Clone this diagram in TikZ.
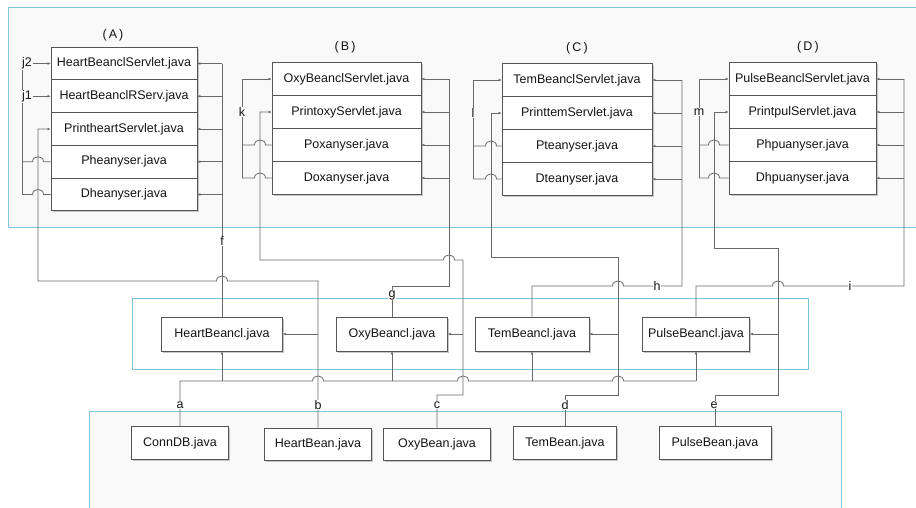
\documentclass[tikz,border=0pt]{standalone}
\usepackage{fontspec}
\setmainfont{Liberation Sans}
\usetikzlibrary{arrows.meta,shadows}
\definecolor{panelc}{RGB}{125,198,218}
\definecolor{panelfill}{RGB}{249,249,249}
\definecolor{linec}{RGB}{105,105,105}
\definecolor{boxc}{RGB}{85,85,85}
\definecolor{txtc}{RGB}{20,20,20}
\tikzset{
  panel/.style={draw=panelc, line width=1pt},
  fbox/.style={draw=boxc, fill=white, line width=0.8pt, inner sep=0pt,
    font=\fontsize{12.5}{14}\selectfont, text=txtc,
    drop shadow={shadow xshift=1.5pt, shadow yshift=-1.5pt, fill=black!22, opacity=1}},
  ln/.style={draw=linec, line width=0.8pt},
  arr/.style={ln, -{Latex[length=3pt,width=2.8pt]}},
  lab/.style={font=\fontsize{12.5}{14}\selectfont, text=txtc, inner sep=0.8pt, fill=white},
  labp/.style={lab, fill=panelfill},
  grp/.style={font=\fontsize{12.5}{14}\selectfont, text=txtc, inner sep=0pt},
  hop/.style args={#1/#2}{insert path={-- ({#1-5.5},#2) .. controls ({#1-5.5},{#2-6.7}) and ({#1+5.5},{#2-6.7}) .. ({#1+5.5},#2)}},
  hopl/.style args={#1/#2}{insert path={-- ({#1+5.5},#2) .. controls ({#1+5.5},{#2-6.7}) and ({#1-5.5},{#2-6.7}) .. ({#1-5.5},#2)}},
}
\begin{document}
\begin{tikzpicture}[x=1pt,y=-1pt]
\useasboundingbox (0,0) rectangle (916,507);
% panels
\draw[panel, fill=panelfill] (8,7) rectangle (925,227);
\draw[panel, fill=white] (132,298) rectangle (808,369);
\draw[panel, fill=panelfill] (89,411) rectangle (841,520);
% group titles
\node[grp] (tA) at (113,35) {(\,A\,)};
\node[grp] (tB) at (345,47) {(\,B\,)};
\node[grp] (tC) at (577,48) {(\,C\,)};
\node[grp] (tD) at (808,47) {(\,D\,)};
% group A
\node[fbox, minimum width=146pt, minimum height=32.75pt] (A1) at (124,63.5) {HeartBeanclServlet.java};
\node[fbox, minimum width=146pt, minimum height=32.75pt] (A2) at (124,96.25) {HeartBeanclRServ.java};
\node[fbox, minimum width=146pt, minimum height=32.75pt] (A3) at (124,129) {PrintheartServlet.java};
\node[fbox, minimum width=146pt, minimum height=32.75pt] (A4) at (124,161.75) {Pheanyser.java};
\node[fbox, minimum width=146pt, minimum height=32.75pt] (A5) at (124,194.5) {Dheanyser.java};
% group B
\node[fbox, minimum width=149pt, minimum height=33pt] (B1) at (346.5,79) {OxyBeanclServlet.java};
\node[fbox, minimum width=149pt, minimum height=33pt] (B2) at (346.5,112) {PrintoxyServlet.java};
\node[fbox, minimum width=149pt, minimum height=33pt] (B3) at (346.5,145) {Poxanyser.java};
\node[fbox, minimum width=149pt, minimum height=33pt] (B4) at (346.5,178) {Doxanyser.java};
% group C
\node[fbox, minimum width=150pt, minimum height=33pt] (C1) at (577,80) {TemBeanclServlet.java};
\node[fbox, minimum width=150pt, minimum height=33pt] (C2) at (577,113) {PrinttemServlet.java};
\node[fbox, minimum width=150pt, minimum height=33pt] (C3) at (577,146) {Pteanyser.java};
\node[fbox, minimum width=150pt, minimum height=33pt] (C4) at (577,179) {Dteanyser.java};
% group D
\node[fbox, minimum width=147pt, minimum height=33pt] (D1) at (802.5,79) {PulseBeanclServlet.java};
\node[fbox, minimum width=147pt, minimum height=33pt] (D2) at (802.5,112) {PrintpulServlet.java};
\node[fbox, minimum width=147pt, minimum height=33pt] (D3) at (802.5,145) {Phpuanyser.java};
\node[fbox, minimum width=147pt, minimum height=33pt] (D4) at (802.5,178) {Dhpuanyser.java};
% middle
\node[fbox, minimum width=121pt, minimum height=34pt] (HC) at (222,334) {HeartBeancl.java};
\node[fbox, minimum width=111pt, minimum height=34pt] (OC) at (392,334) {OxyBeancl.java};
\node[fbox, minimum width=114pt, minimum height=34pt] (TC) at (532,334) {TemBeancl.java};
\node[fbox, minimum width=107pt, minimum height=34pt] (PC) at (696,334) {PulseBeancl.java};
% bottom
\node[fbox, minimum width=97pt, minimum height=33pt] (CDB) at (180,443) {ConnDB.java};
\node[fbox, minimum width=107pt, minimum height=32pt] (HBn) at (318,444) {HeartBean.java};
\node[fbox, minimum width=107pt, minimum height=32pt] (OBn) at (437,444) {OxyBean.java};
\node[fbox, minimum width=103pt, minimum height=33pt] (TBn) at (565,443) {TemBean.java};
\node[fbox, minimum width=112pt, minimum height=33pt] (PBn) at (715,443) {PulseBean.java};
% ---- A connectors
\draw[ln] (HC.north) -- (HC.north |- A1.east);
\foreach \i in {1,...,5} {\draw[arr] (HC.north |- A\i.east) -- (A\i.east);}
\coordinate (jA) at (22,63.5);
\draw[ln] (jA) -- (jA |- A5.west);
\draw[arr] (jA) -- (A1.west);
\draw[arr] (jA |- A2.west) -- (A2.west);
\draw[ln] (jA |- A4.west) [hop=38/161.75] -- (A4.west);
\draw[ln] (jA |- A5.west) [hop=38/194.5] -- (A5.west);
\draw[arr] (HBn.north) -- (318,281) [hopl=222/281] -- (38,281) -- (38,129) -- (A3.west);
\draw[arr] (318,334) -- (HC.east);
% ---- B connectors
\draw[ln] (OC.north) -- (392,286) -- (449,286) -- (449,79);
\foreach \i in {1,...,4} {\draw[arr] (B\i.east -| 449,0) -- (B\i.east);}
\coordinate (kB) at (242,79);
\draw[ln] (kB) -- (kB |- B4.west);
\draw[arr] (kB) -- (B1.west);
\draw[ln] (kB |- B3.west) [hop=260/145] -- (B3.west);
\draw[ln] (kB |- B4.west) [hop=260/178] -- (B4.west);
\draw[arr] (OBn.north) -- (437,395) -- (463,395) -- (463,260) [hopl=449/260] -- (260,260) -- (260,112) -- (B2.west);
\draw[arr] (463,334) -- (OC.east);
% ---- C connectors
\draw[ln] (TC.north) -- (532,286) [hop=618/286] -- (682,286) -- (682,80);
\foreach \i in {1,...,4} {\draw[arr] (C\i.east -| 682,0) -- (C\i.east);}
\coordinate (lC) at (473,80);
\draw[ln] (lC) -- (lC |- C4.west);
\draw[arr] (lC) -- (C1.west);
\draw[ln] (lC |- C3.west) [hop=491/146] -- (C3.west);
\draw[ln] (lC |- C4.west) [hop=491/179] -- (C4.west);
\draw[arr] (TBn.north) -- (565,395) -- (618,395) -- (618,257) -- (491,257) -- (491,113) -- (C2.west);
\draw[arr] (618,334) -- (TC.east);
% ---- D connectors
\draw[ln] (PC.north) -- (696,286) [hop=778/286] -- (904,286) -- (904,79);
\foreach \i in {1,...,4} {\draw[arr] (D\i.east -| 904,0) -- (D\i.east);}
\coordinate (mD) at (699,79);
\draw[ln] (mD) -- (mD |- D4.west);
\draw[arr] (mD) -- (D1.west);
\draw[ln] (mD |- D3.west) [hop=714/145] -- (D3.west);
\draw[ln] (mD |- D4.west) [hop=714/178] -- (D4.west);
\draw[arr] (PBn.north) -- (715,395) -- (778,395) -- (778,248) -- (714,248) -- (714,112) -- (D2.west);
\draw[arr] (778,334) -- (PC.east);
% ---- ConnDB bus
\draw[ln] (CDB.north) -- (180,381) [hop=318/381] [hop=463/381] [hop=618/381] -- (696,381);
\draw[arr] (HC.south |- 0,381) -- (HC.south);
\draw[arr] (OC.south |- 0,381) -- (OC.south);
\draw[arr] (TC.south |- 0,381) -- (TC.south);
\draw[arr] (PC.south |- 0,381) -- (PC.south);
% ---- labels
\node[labp] (lj2) at (27,63.5) {j2};
\node[labp] (lj1) at (27,96.25) {j1};
\node[labp] (lk) at (242,112) {k};
\node[labp] (ll) at (473,113) {l};
\node[labp] (lm) at (699,112) {m};
\node[lab] (lf) at (222,241) {f};
\node[lab] (lg) at (392,295) {g};
\node[lab] (lh) at (657,286) {h};
\node[lab] (li) at (850,286) {i};
\node[lab] (la) at (180,405) {a};
\node[lab] (lb) at (318,405) {b};
\node[lab] (lc) at (437,405) {c};
\node[lab] (ld) at (565,405) {d};
\node[lab] (le) at (714,405) {e};
\end{tikzpicture}
\end{document}
